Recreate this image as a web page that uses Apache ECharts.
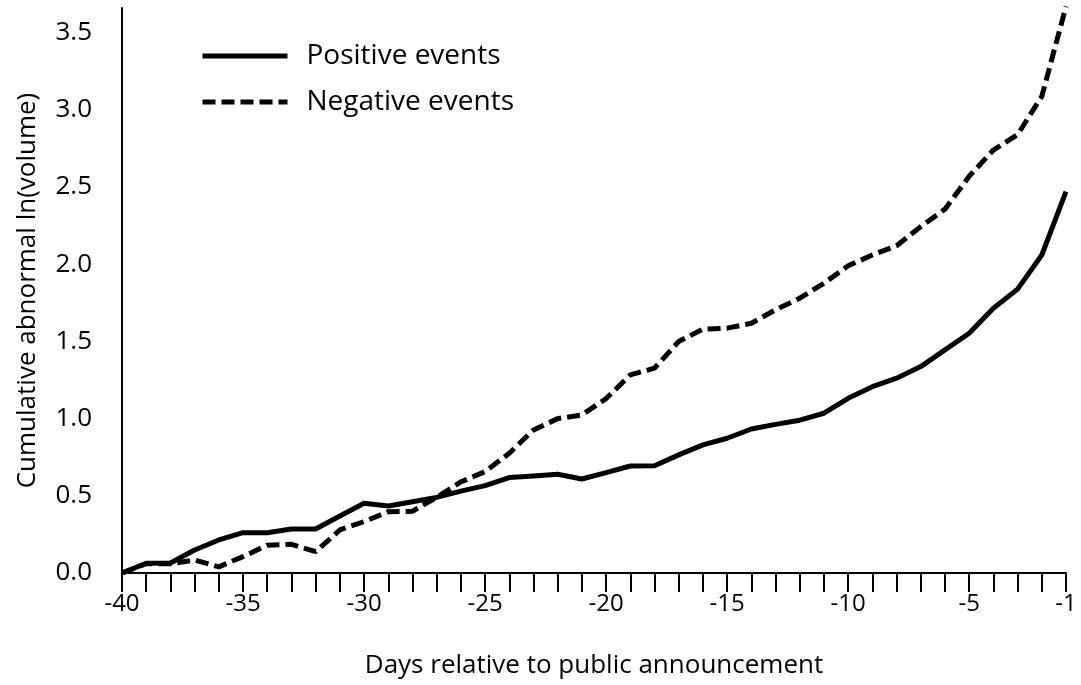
<!DOCTYPE html>
<html>
<head>
<meta charset="utf-8">
<script src="https://cdn.jsdelivr.net/npm/echarts@6/dist/echarts.min.js"></script>
<style>html,body{margin:0;padding:0;background:#fff}#c{width:1081px;height:685px}</style>
</head>
<body>
<div id="c"></div>
<script>
var days = [];
for (var d = -40; d <= -1; d++) days.push(d);
var xTickLabels = [-40, -35, -30, -25, -20, -15, -10, -5, -1];
var yTickLabels = [0, 0.5, 1, 1.5, 2, 2.5, 3, 3.5];
var positive = [0, 0.063, 0.065, 0.149, 0.214, 0.261, 0.261, 0.285, 0.285, 0.369,
  0.452, 0.434, 0.462, 0.49, 0.53, 0.566, 0.618, 0.629, 0.64, 0.609,
  0.65, 0.693, 0.695, 0.765, 0.83, 0.873, 0.933, 0.963, 0.99, 1.035,
  1.132, 1.207, 1.262, 1.337, 1.445, 1.553, 1.715, 1.839, 2.06, 2.47];
var negative = [0, 0.06, 0.06, 0.084, 0.04, 0.106, 0.18, 0.186, 0.138, 0.279,
  0.333, 0.397, 0.4, 0.49, 0.59, 0.657, 0.776, 0.927, 1.0, 1.024,
  1.13, 1.283, 1.327, 1.5, 1.58, 1.586, 1.618, 1.705, 1.78, 1.877,
  1.99, 2.06, 2.12, 2.244, 2.357, 2.57, 2.74, 2.84, 3.087, 3.67];

function pairs(vals) { return days.map(function (d, i) { return [d, vals[i]]; }); }
var FONT = 'Open Sans';
var chart = echarts.init(document.getElementById('c'));
chart.setOption({
  animation: false,
  backgroundColor: '#fff',
  grid: { left: 122, right: 15, top: 8, bottom: 112, containLabel: false },
  legend: {
    orient: 'vertical', left: 200, top: 41, padding: 0, itemWidth: 85, itemHeight: 30, itemGap: 16,
    itemStyle: { opacity: 0 },
    lineStyle: { width: 5 },
    textStyle: { fontFamily: FONT, fontSize: 28, lineHeight: 30, color: '#000', padding: [0, 0, 0, 14] },
    data: ['Positive events', 'Negative events']
  },
  xAxis: {
    type: 'value', min: -40, max: -1, interval: 1,
    name: 'Days relative to public announcement', nameLocation: 'middle', nameGap: 80,
    nameTextStyle: { fontFamily: FONT, fontSize: 26, color: '#000' },
    axisLine: { onZero: false, lineStyle: { color: '#000', width: 2 } },
    axisTick: { show: true, length: 19, lineStyle: { color: '#000', width: 2 } },
    splitLine: { show: false },
    axisLabel: {
      margin: 19, fontFamily: FONT, fontSize: 24, color: '#000', showMinLabel: true, showMaxLabel: true,
      formatter: function (v) { return xTickLabels.indexOf(Math.round(v)) >= 0 ? String(Math.round(v)) : ''; }
    }
  },
  yAxis: {
    type: 'value', min: 0, max: 3.66, interval: 0.5,
    name: 'Cumulative abnormal ln(volume)', nameLocation: 'middle', nameGap: 81,
    nameTextStyle: { fontFamily: FONT, fontSize: 26, color: '#000' },
    axisLine: { show: true, lineStyle: { color: '#000', width: 2 } },
    axisTick: { show: false },
    splitLine: { show: false },
    axisLabel: {
      margin: 30, fontFamily: FONT, fontSize: 26, color: '#000', showMaxLabel: false,
      formatter: function (v) {
        for (var i = 0; i < yTickLabels.length; i++) if (Math.abs(v - yTickLabels[i]) < 1e-6) return yTickLabels[i].toFixed(1);
        return '';
      }
    }
  },
  series: [
    { name: 'Positive events', type: 'line', data: pairs(positive), symbol: 'none',
      lineStyle: { color: '#000', width: 5, type: 'solid' }, itemStyle: { color: '#000' } },
    { name: 'Negative events', type: 'line', data: pairs(negative), symbol: 'none',
      lineStyle: { color: '#000', width: 5, type: [13, 6] }, itemStyle: { color: '#000' } }
  ]
});
</script>
</body>
</html>
